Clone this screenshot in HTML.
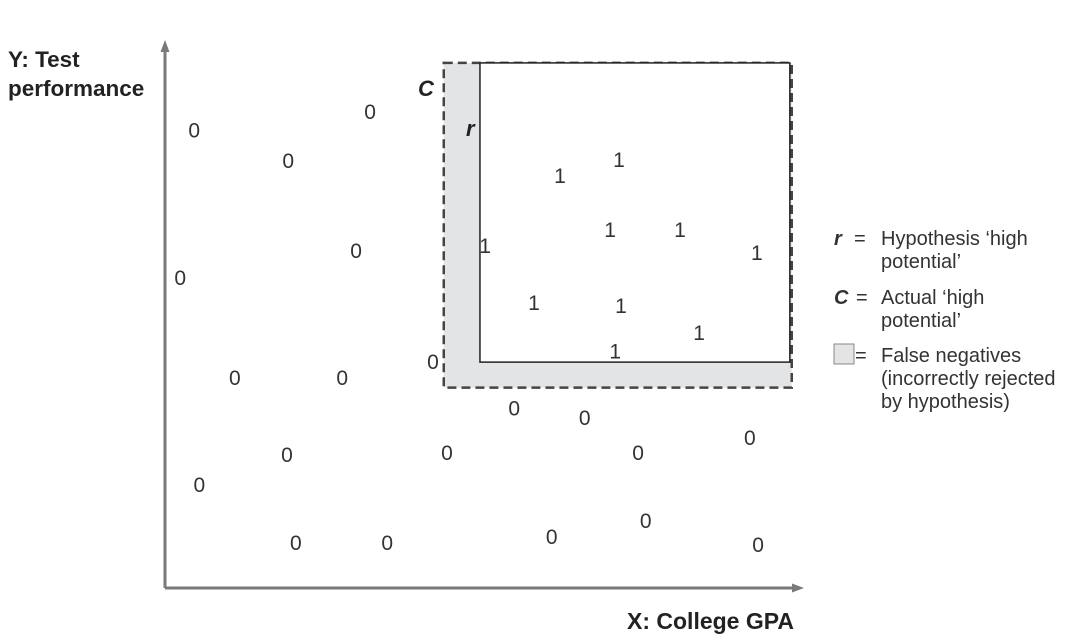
<!DOCTYPE html>
<html><head><meta charset="utf-8"><style>
body{margin:0;background:#fff;}
svg{display:block;font-family:"Liberation Sans",sans-serif;}
</style></head><body>
<svg id="chart" width="1079" height="643" viewBox="0 0 1079 643">
<defs><marker id="ah" markerUnits="userSpaceOnUse" markerWidth="12" markerHeight="12" refX="6" refY="6" orient="auto"><path d="M0,1.5 L12,6 L0,10.5 Z" fill="#7a7a7a"/></marker></defs>
<g id="regions"></g>
<line x1="165" y1="588" x2="165" y2="46" stroke="#7a7a7a" stroke-width="3" marker-end="url(#ah)"/>
<line x1="165" y1="588" x2="798" y2="588" stroke="#7a7a7a" stroke-width="3" marker-end="url(#ah)"/>
<text x="8" y="67" font-size="22.5" font-weight="bold" fill="#222">Y: Test</text>
<text x="8" y="96" font-size="22.5" font-weight="bold" fill="#222">performance</text>
<text x="627" y="629" font-size="23" font-weight="bold" fill="#222">X: College GPA</text>
<text x="418" y="96" font-size="22" font-weight="bold" font-style="italic" fill="#222">C</text>
<text x="466" y="136" font-size="22" font-weight="bold" font-style="italic" fill="#222">r</text>
<g id="points"></g>
<g font-size="20" fill="#333">
<text x="834" y="245" font-weight="bold" font-style="italic">r</text>
<text x="854" y="245">= <tspan x="881">Hypothesis ‘high</tspan><tspan x="881" dy="23">potential’</tspan></text>
<text x="834" y="304" font-weight="bold" font-style="italic">C</text>
<text x="856" y="304">= <tspan x="881">Actual ‘high</tspan><tspan x="881" dy="23">potential’</tspan></text>
<rect x="834" y="344" width="20" height="20" fill="#e3e4e6" stroke="#888"/>
<text x="855" y="362">= <tspan x="881">False negatives</tspan><tspan x="881" dy="23">(incorrectly rejected</tspan><tspan x="881" dy="23">by hypothesis)</tspan></text>
</g>
</svg>
<script>
const zeroX=[4.6,32.3,19.4,30.1,2.4,11.0,27.9,42.2,55.0,66.1,92.1,19.2,44.4,74.5,5.4,20.6,35.0,60.9,75.7,93.4];
const zeroY=[84.3,87.7,78.6,62.1,57.1,38.7,38.7,41.6,33.1,31.3,27.6,24.5,24.9,24.9,19.0,8.3,8.3,9.4,12.3,7.9];
const oneX=[62.2,71.5,50.4,70.1,81.1,93.2,58.1,71.8,84.1,70.9];
const oneY=[75.9,78.8,63.0,65.9,65.9,61.7,52.5,51.9,47.0,43.6];
const cRegion=[43.9,98.7,36.9,96.7]; // xmin,xmax,ymin,ymax
const rRegion=[49.6,98.4,41.6,96.7];
const sx=v=>165+v*6.35, sy=v=>588-v*5.43;
const NS="http://www.w3.org/2000/svg";
const reg=document.getElementById('regions');
function rect(r,fill,stroke,dash,name){const e=document.createElementNS(NS,'rect');
e.setAttribute('x',sx(r[0]));e.setAttribute('y',sy(r[3]));e.setAttribute('width',sx(r[1])-sx(r[0]));e.setAttribute('height',sy(r[2])-sy(r[3]));
e.setAttribute('fill',fill);e.setAttribute('stroke',stroke);e.setAttribute('stroke-width',dash?2.5:1.5);if(dash)e.setAttribute('stroke-dasharray','9,5');


reg.appendChild(e);}
rect(cRegion,'#e3e4e6','#444',true,'actual-high-potential-region');
rect(rRegion,'#fff','#222',false,'hypothesis-region');
const pg=document.getElementById('points');
function pt(x,y,t,name){const e=document.createElementNS(NS,'text');
e.setAttribute('x',sx(x));e.setAttribute('y',sy(y)+7);e.setAttribute('text-anchor','middle');e.setAttribute('font-size','21');e.setAttribute('fill','#333');e.textContent=t;


pg.appendChild(e);}
zeroX.forEach((x,i)=>pt(x,zeroY[i],'0','point-zero'));
oneX.forEach((x,i)=>pt(x,oneY[i],'1','point-one'));
</script>
</body></html>
